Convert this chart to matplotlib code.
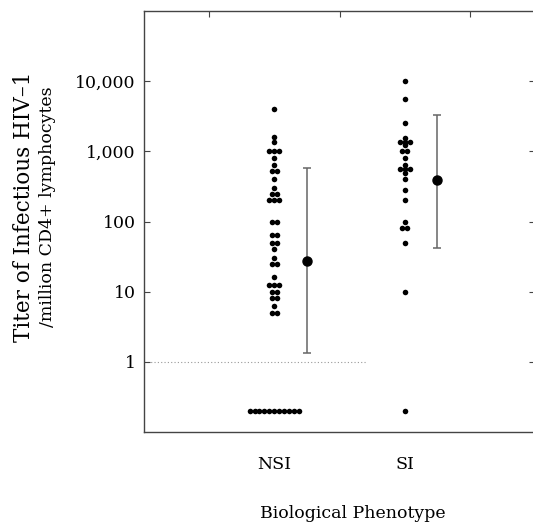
import numpy as np
import matplotlib
matplotlib.use("Agg")
import matplotlib.pyplot as plt

plt.rcParams['font.family'] = ['DejaVu Serif']

# titer values (undetectable plotted at 0.2)
groups = ['NSI', 'SI']
nsi_vals = [4000, 1600, 1350, 1000, 1000, 1000, 800, 630, 520, 520, 400,
            300, 250, 250, 200, 200, 200, 100, 100, 65, 65, 50, 50, 40, 30,
            25, 25, 16, 12.5, 12.5, 12.5, 10, 10, 8, 8, 6.3, 5, 5,
            0.2, 0.2, 0.2, 0.2, 0.2, 0.2, 0.2, 0.2, 0.2, 0.2, 0.2]
si_vals = [10000, 5500, 2500, 1560, 1370, 1370, 1370, 1220, 1000, 1000, 800,
           630, 555, 555, 555, 490, 400, 280, 200, 100, 80, 80, 50, 10, 0.2]
# geometric means and ranges
means = [27, 390]
err_lo = [1.35, 42]
err_hi = [570, 3300]

ytick_vals = [1, 10, 100, 1000, 10000]
ytick_labels = ['1', '10', '100', '1,000', '10,000']


def swarm(center, vals, step=0.038):
    # spread equal values sideways like the hand-drawn dot plot
    xs = []
    ys = []
    vals = np.array(vals)
    for v in np.unique(vals):
        n = np.sum(vals == v)
        offs = (np.arange(n) - (n - 1) / 2.) * step
        xs.extend(center + offs)
        ys.extend([v] * n)
    return np.array(xs), np.array(ys)


fig = plt.figure(figsize=(5.33, 5.22), dpi=100)
ax = fig.add_axes([144/533., 90/522., 391/533., 421/522.])

for i, vals in enumerate([nsi_vals, si_vals]):
    x, y = swarm(i + 1, vals)
    ax.scatter(x, y, s=16, color='black', zorder=3, linewidths=0)
    ax.errorbar(i + 1.25, means[i],
                yerr=[[means[i] - err_lo[i]], [err_hi[i] - means[i]]],
                fmt='o', color='black', ms=6.5, ecolor='#666666', elinewidth=1.1,
                capsize=3, capthick=1.1, zorder=2)

# dotted reference line at 1
ax.plot([0, 1.7], [1, 1], color='#999999', lw=0.8, ls=(0, (1, 2)), zorder=1)

ax.set_yscale('log')
ax.set_ylim(0.1, 1e5)
ax.set_xlim(0, 3)
ax.set_yticks(ytick_vals)
ax.set_yticklabels(ytick_labels)
ax.yaxis.set_minor_locator(matplotlib.ticker.NullLocator())
ax.tick_params(axis='y', direction='in', length=4, pad=6, labelsize=12.5,
               right=True, color='#444444')
ax.set_xticks([1, 2])
ax.set_xticklabels(groups)
ax.tick_params(axis='x', length=0, pad=17, labelsize=12.5)

top = ax.secondary_xaxis('top')
top.set_xticks([0.5, 1.5, 2.5])
top.tick_params(direction='in', length=4, labeltop=False, color='#444444')
top.spines['top'].set_visible(False)

for side in ['left', 'top', 'bottom']:
    ax.spines[side].set_color('#444444')
    ax.spines[side].set_linewidth(1.0)
ax.spines['right'].set_visible(False)

fig.text(24/533., 1 - 207/522., 'Titer of Infectious HIV–1', rotation=90,
         ha='center', va='center', fontsize=15.5)
fig.text(48/533., 1 - 207/522., '/million CD4+ lymphocytes', rotation=90,
         ha='center', va='center', fontsize=12.5)
fig.text(353/533., 1 - 513/522., 'Biological Phenotype', ha='center',
         va='center', fontsize=12.5)

fig.savefig('out.png', dpi=100)
